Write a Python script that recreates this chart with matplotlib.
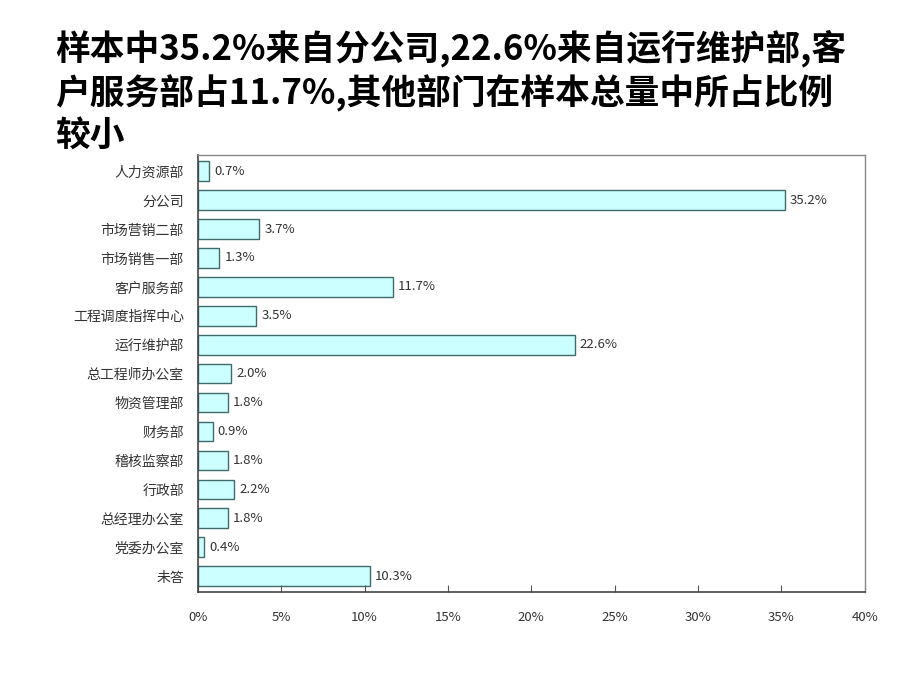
import numpy as np
import matplotlib.pyplot as plt
from matplotlib.ticker import FuncFormatter

plt.rcParams['font.family'] = ['Noto Sans CJK SC', 'DejaVu Sans']

depts = ['人力资源部', '分公司', '市场营销二部', '市场销售一部', '客户服务部',
         '工程调度指挥中心', '运行维护部', '总工程师办公室', '物资管理部', '财务部',
         '稽核监察部', '行政部', '总经理办公室', '党委办公室', '未答']
pct = [0.7, 35.2, 3.7, 1.3, 11.7, 3.5, 22.6, 2.0, 1.8, 0.9, 1.8, 2.2, 1.8, 0.4, 10.3]
title = '样本中35.2%来自分公司,22.6%来自运行维护部,客\n户服务部占11.7%,其他部门在样本总量中所占比例\n较小'

fig = plt.figure(figsize=(9.2, 6.9), dpi=100)
fig.text(0.06, 0.958, title, fontsize=25, fontweight='bold', va='top', ha='left',
         linespacing=1.25)

ax = fig.add_axes([0.215, 0.142, 0.725, 0.633])
y = np.arange(len(depts))
ax.barh(y, pct, height=0.68, color='#CCFFFF', edgecolor='#3F6B6B', linewidth=1.0)
for yi, v in zip(y, pct):
    ax.text(v + 0.3, yi, f'{v:.1f}%', va='center', ha='left', fontsize=9.5, color='#333333')

ax.set_xlim(0, 40)
ax.set_ylim(len(depts) - 0.45, -0.55)
ax.set_xticks(np.arange(0, 41, 5))
ax.xaxis.set_major_formatter(FuncFormatter(lambda v, p: f'{v:.0f}%'))
ax.set_yticks(y)
ax.set_yticklabels(depts)
ax.tick_params(axis='x', direction='in', length=5, pad=14, labelsize=9.5, labelcolor='#333333', color='#555555')
ax.tick_params(axis='y', length=0, pad=10, labelsize=10, labelcolor='#333333')
for s in ['top', 'right']:
    ax.spines[s].set_color('#888888')
    ax.spines[s].set_linewidth(1.0)
for s in ['left', 'bottom']:
    ax.spines[s].set_color('#444444')
    ax.spines[s].set_linewidth(1.2)

plt.savefig('out.png', dpi=100)
